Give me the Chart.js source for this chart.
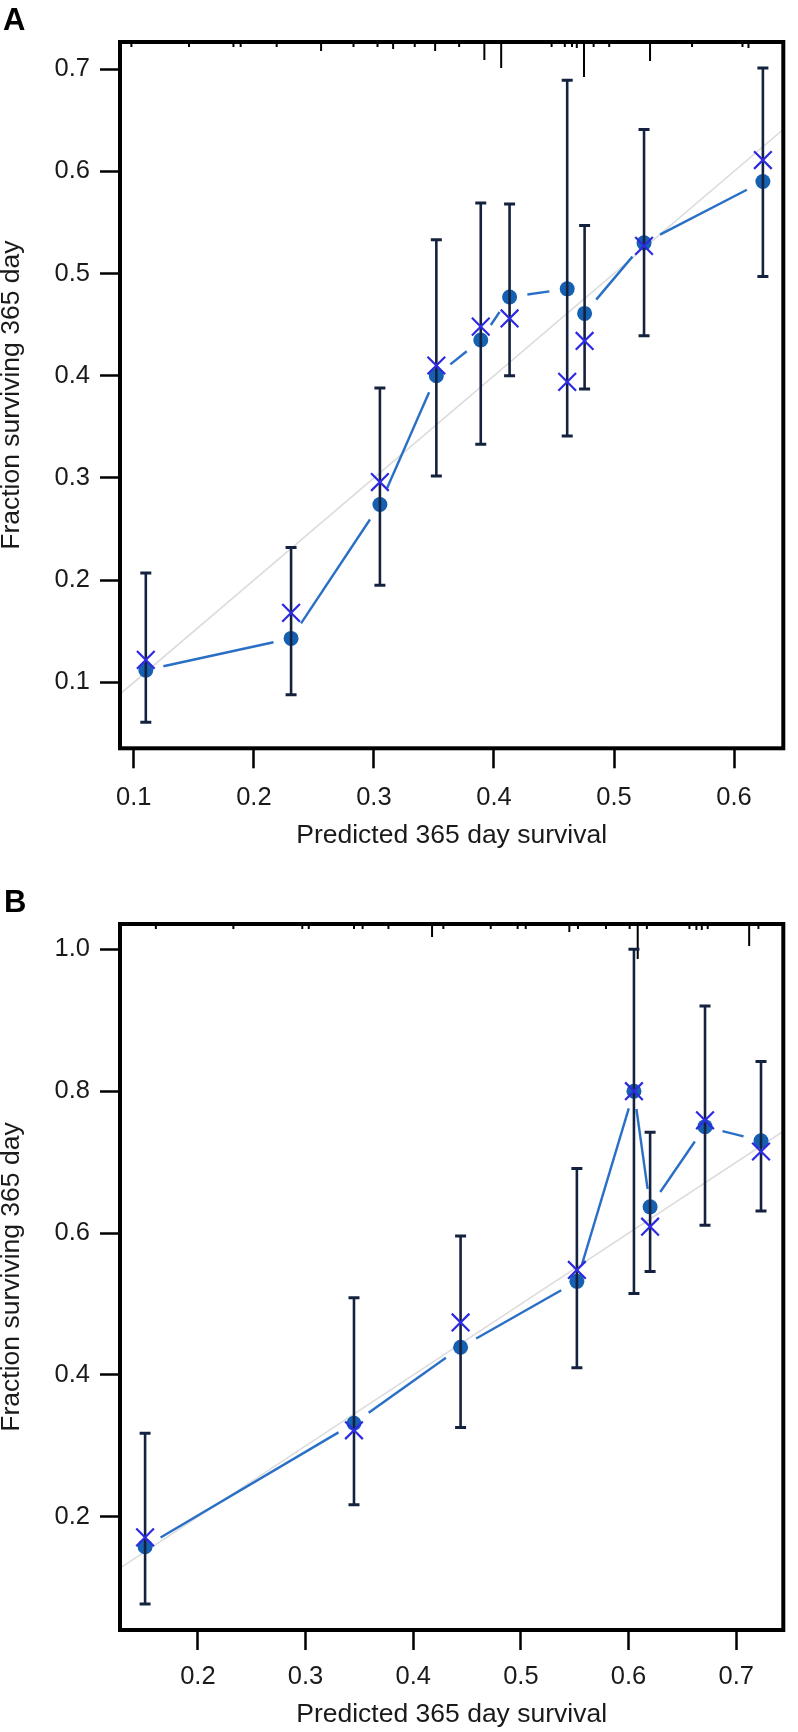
<!DOCTYPE html>
<html>
<head>
<meta charset="utf-8">
<script src="https://cdn.jsdelivr.net/npm/chart.js@4.4.1/dist/chart.umd.min.js"></script>
<style>
  body { margin: 0; background: #fff; }
  canvas { display: block; }
</style>
</head>
<body>
<canvas id="chartA" width="798" height="866"></canvas>
<canvas id="chartB" width="798" height="866"></canvas>
<script>
// ---- panel A ----
const predA = [0.110, 0.231, 0.305, 0.352, 0.389, 0.413, 0.461, 0.4755, 0.525, 0.624];
const obsA  = [0.112, 0.143, 0.274, 0.400, 0.435, 0.477, 0.485, 0.461, 0.530, 0.590];
const corrA = [0.122, 0.168, 0.296, 0.410, 0.448, 0.456, 0.394, 0.434, 0.527, 0.611];
const loA   = [0.061, 0.088, 0.195, 0.302, 0.333, 0.400, 0.341, 0.387, 0.439, 0.497];
const hiA   = [0.207, 0.232, 0.388, 0.533, 0.569, 0.568, 0.689, 0.547, 0.641, 0.701];
const spikeXA = [0.098, 0.146, 0.183, 0.189, 0.219, 0.256, 0.283, 0.303, 0.316, 0.334, 0.351, 0.371,
                 0.392, 0.406, 0.448, 0.459, 0.465, 0.469, 0.475, 0.483, 0.496, 0.530, 0.565, 0.607, 0.612];
const spikeHA = [5, 5, 5, 5, 5, 9, 5, 5, 7, 5, 9, 5,
                 18, 26, 5, 5, 5, 6, 35, 5, 5, 19, 5, 5, 6];
const xTicksA = [0.1, 0.2, 0.3, 0.4, 0.5, 0.6];
const yTicksA = [0.1, 0.2, 0.3, 0.4, 0.5, 0.6, 0.7];

// ---- panel B ----
const predB = [0.151, 0.345, 0.444, 0.552, 0.605, 0.620, 0.671, 0.723];
const obsB  = [0.158, 0.332, 0.439, 0.532, 0.800, 0.637, 0.750, 0.730];
const corrB = [0.171, 0.322, 0.474, 0.548, 0.800, 0.609, 0.759, 0.715];
const loB   = [0.077, 0.217, 0.326, 0.410, 0.515, 0.546, 0.611, 0.631];
const hiB   = [0.318, 0.509, 0.596, 0.691, 1.000, 0.742, 0.920, 0.842];
const spikeXB = [0.161, 0.233, 0.297, 0.303, 0.345, 0.353, 0.377, 0.4175, 0.428, 0.472, 0.497, 0.5045,
                 0.545, 0.553, 0.579, 0.601, 0.6085, 0.617, 0.6565, 0.663, 0.668, 0.6735, 0.712, 0.7206];
const spikeHB = [5, 5, 5, 5, 5, 5, 5, 13, 5, 5, 5, 5,
                 8, 5, 5, 5, 35, 5, 5, 6, 6, 5, 22, 5];
const xTicksB = [0.2, 0.3, 0.4, 0.5, 0.6, 0.7];
const yTicksB = [0.2, 0.4, 0.6, 0.8, 1.0];

const GAP = 18;
const FONT = "'Liberation Sans', Arial, Helvetica, sans-serif";
Chart.defaults.font.family = FONT;
Chart.defaults.color = '#1a1a1a';

function pts(xs, ys) {
  return xs.map((x, i) => ({ x: x, y: ys[i] }));
}

// vertical segments separated by nulls
function vbars(xs, lo, hi) {
  let d = [];
  xs.forEach((x, i) => {
    d.push({ x: x, y: lo[i] }, { x: x, y: hi[i] }, { x: x, y: null });
  });
  return d;
}

// line broken near each point, like R type="b"
function gapDash(ctx) {
  let dx = ctx.p1.x - ctx.p0.x, dy = ctx.p1.y - ctx.p0.y;
  let len = Math.sqrt(dx * dx + dy * dy);
  if (len <= 2 * GAP) return [0, len + 100];
  return [0, GAP, len - 2 * GAP, len + 100];
}

const framePlugin = {
  id: 'frame',
  afterDraw(chart) {
    let a = chart.chartArea, c = chart.ctx;
    c.save();
    c.strokeStyle = '#000';
    c.lineWidth = 4;
    c.strokeRect(a.left, a.top, a.right - a.left, a.bottom - a.top);
    let o = chart.options.plugins.panel;
    c.fillStyle = '#000';
    c.font = 'bold 31px ' + FONT;
    c.textBaseline = 'alphabetic';
    c.fillText(o.text, o.x, o.y);
    c.restore();
  }
};

function drawPanel(id, p) {
  let ticksFont = { size: 25.5 };
  new Chart(document.getElementById(id), {
    type: 'scatter',
    data: {
      datasets: [
        {
          data: pts(p.pred, p.corr),
          pointStyle: 'crossRot', pointRadius: 12.5, pointBorderWidth: 2.2,
          pointBorderColor: '#2e2ae2', showLine: false, order: 0
        },
        {
          data: vbars(p.pred, p.lo, p.hi),
          showLine: true, spanGaps: false, borderColor: '#14223f', borderWidth: 2.6,
          pointStyle: 'line', pointRadius: 5.5, pointBorderWidth: 3,
          pointBorderColor: '#14223f', order: 1
        },
        {
          data: pts(p.pred, p.obs),
          showLine: true, borderColor: '#2a6fc6', borderWidth: 2.4,
          segment: { borderDash: gapDash },
          pointRadius: 7.5, pointBackgroundColor: '#1660b2', pointBorderWidth: 0,
          order: 2
        },
        {
          data: vbars(p.spikeX, p.spikeX.map(() => 0), p.spikeH),
          yAxisID: 'ySpike', showLine: true, spanGaps: false,
          borderColor: '#000', borderWidth: 2, pointRadius: 0, order: 3
        },
        {
          data: pts(p.ideal, p.ideal),
          showLine: true, borderColor: '#dcdcdc', borderWidth: 1.6, pointRadius: 0, order: 4
        }
      ]
    },
    options: {
      responsive: false,
      animation: false,
      devicePixelRatio: 1,
      layout: { padding: { top: p.top, right: p.right, left: 0, bottom: 0 } },
      plugins: {
        legend: { display: false },
        tooltip: { enabled: false },
        panel: p.label
      },
      scales: {
        x: {
          type: 'linear', min: p.xMin, max: p.xMax,
          afterBuildTicks: s => { s.ticks = p.xTicks.map(v => ({ value: v })); },
          afterFit: s => { s.height = p.xHeight; },
          grid: { drawOnChartArea: false, drawTicks: true, tickLength: 20, tickWidth: 2.5, tickColor: '#000' },
          border: { display: false },
          ticks: { font: ticksFont, padding: p.xPad, maxRotation: 0, callback: v => v.toFixed(1) },
          title: { display: true, text: 'Predicted 365 day survival', font: { size: 26.5, lineHeight: 1 },
                   padding: { top: 0, bottom: p.titlePad } }
        },
        y: {
          type: 'linear', min: p.yMin, max: p.yMax,
          afterBuildTicks: s => { s.ticks = p.yTicks.map(v => ({ value: v })); },
          afterFit: s => { s.width = 120; },
          grid: { drawOnChartArea: false, drawTicks: true, tickLength: 20, tickWidth: 2.5, tickColor: '#000' },
          border: { display: false },
          ticks: { font: ticksFont, padding: 10, callback: v => v.toFixed(1) },
          title: { display: true, text: 'Fraction surviving 365 day', font: { size: 26.5, lineHeight: 1 },
                   padding: { top: -2, bottom: 0 } }
        },
        ySpike: {
          type: 'linear', display: false, reverse: true, min: 0, max: 706
        }
      }
    },
    plugins: [framePlugin]
  });
}

drawPanel('chartA', {
  pred: predA, obs: obsA, corr: corrA, lo: loA, hi: hiA,
  spikeX: spikeXA, spikeH: spikeHA, ideal: [0.05, 0.7],
  xTicks: xTicksA, yTicks: yTicksA,
  xMin: 0.0885, xMax: 0.641, yMin: 0.0355, yMax: 0.7265,
  top: 42, right: 6.3, xHeight: 117.7, xPad: 14, titlePad: 17,
  label: { text: 'A', x: 3, y: 30 }
});

drawPanel('chartB', {
  pred: predB, obs: obsB, corr: corrB, lo: loB, hi: hiB,
  spikeX: spikeXB, spikeH: spikeHB, ideal: [0.1, 0.8],
  xTicks: xTicksB, yTicks: yTicksB,
  xMin: 0.1277, xMax: 0.7437, yMin: 0.0405, yMax: 1.0357,
  top: 58, right: 4.7, xHeight: 102, xPad: 12, titlePad: 4,
  label: { text: 'B', x: 4, y: 46 }
});
</script>
</body>
</html>
